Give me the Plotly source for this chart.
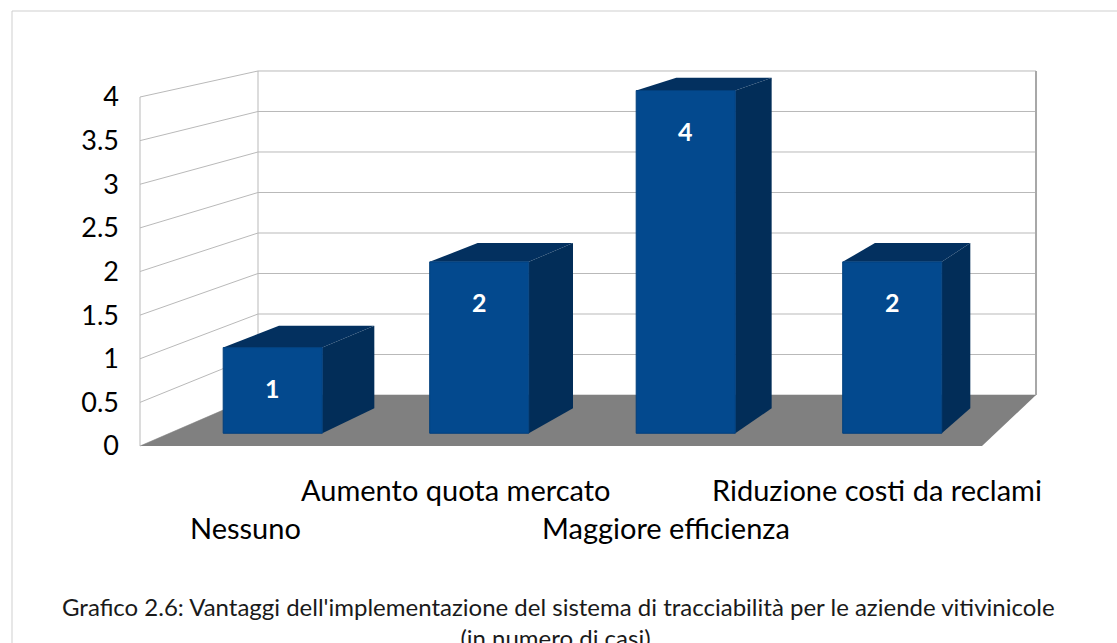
import plotly.graph_objects as go

# Data
categories = ["Nessuno", "Aumento quota mercato", "Maggiore efficienza", "Riduzione costi da reclami"]
values = [1, 2, 4, 2]
y_ticks = [0, 0.5, 1, 1.5, 2, 2.5, 3, 3.5, 4]
caption = ("Grafico 2.6: Vantaggi dell'implementazione del sistema di tracciabilità per le aziende vitivinicole"
           "<br>(in numero di casi).")

W, H = 1117, 643
FONT = "Lato"

# Oblique/perspective projection of (u: category units, z: depth 0..1, v: value)
# onto the front-plane axes (x in category units, y in value units).
K_U, OFF_U = 0.076, 0.5606
K_V, OFF_V = 0.0716, 0.5845


def proj(u, z, v):
    return u * (1 - K_U * z) + OFF_U * z, v * (1 - K_V * z) + OFF_V * z


def poly(points, fill, line_color=None, width=0):
    xs, ys = zip(*[proj(*p) for p in points])
    xs = list(xs) + [xs[0]]
    ys = list(ys) + [ys[0]]
    return go.Scatter(x=xs, y=ys, mode="lines", fill="toself", fillcolor=fill,
                      line=dict(color=line_color or fill, width=width),
                      hoverinfo="skip", showlegend=False)


def seg(p0, p1, color="#b9b9b9", width=1):
    x0, y0 = proj(*p0)
    x1, y1 = proj(*p1)
    return go.Scatter(x=[x0, x1], y=[y0, y1], mode="lines",
                      line=dict(color=color, width=width),
                      hoverinfo="skip", showlegend=False)


n = len(categories)
vmax = max(y_ticks)
traces = []

# Walls: gridlines on side wall and back wall
for t in y_ticks:
    traces.append(seg((0, 0, t), (0, 1, t)))
    traces.append(seg((0, 1, t), (n, 1, t)))
traces.append(seg((0, 0, 0), (0, 0, vmax)))
traces.append(seg((0, 1, 0), (0, 1, vmax)))
traces.append(seg((n, 1, 0), (n, 1, vmax), color="#a8a8a8", width=2))

# Floor
traces.append(poly([(0, 0, 0), (n, 0, 0), (n, 1, 0), (0, 1, 0)], "#808080"))

# Bars
FRONT, SIDE, TOP = "#03498e", "#022d58", "#03305f"
Z0, Z1 = 0.25, 0.74
HALF = 0.24
annotations = []
for i, v in enumerate(values):
    u0, u1 = i + 0.5 - HALF, i + 0.5 + HALF
    traces.append(poly([(u0, Z0, v), (u1, Z0, v), (u1, Z1, v), (u0, Z1, v)], TOP))
    traces.append(poly([(u1, Z0, 0), (u1, Z1, 0), (u1, Z1, v), (u1, Z0, v)], SIDE))
    traces.append(poly([(u0, Z0, 0), (u1, Z0, 0), (u1, Z0, v), (u0, Z0, v)], FRONT,
                       line_color="#023f7c", width=1))
    lx, ly = proj(i + 0.5, Z0, v)
    annotations.append(dict(x=lx, y=ly, text=f"<b>{v}</b>", showarrow=False,
                            yshift=-40, font=dict(family=FONT, size=25, color="white")))

# Category labels, staggered over two rows
for i, c in enumerate(categories):
    cx, cy = proj(i + 0.5, 0, 0)
    annotations.append(dict(x=cx, y=cy, text=c, showarrow=False,
                            yshift=-43 if i % 2 else -81,
                            font=dict(family=FONT, size=29, color="black")))

# Caption
annotations.append(dict(x=0.5, y=(H - 590) / H, xref="paper", yref="paper", text=caption,
                        showarrow=False, yanchor="top", align="center",
                        font=dict(family=FONT, size=24, color="#1a1a1a")))

# Axis ranges chosen so the front plane spans the drawing area
PX_U = 210.5
PX_V = 87.25
X0_PX, Y0_PX = 140, 446
x_range = [-X0_PX / PX_U, (W - X0_PX) / PX_U]
y_range = [(Y0_PX - H) / PX_V, Y0_PX / PX_V]

fig = go.Figure(traces)
fig.update_layout(
    width=W, height=H,
    margin=dict(l=0, r=0, t=0, b=0),
    paper_bgcolor="white", plot_bgcolor="white",
    showlegend=False, hovermode=False,
    annotations=annotations,
    xaxis=dict(range=x_range, visible=False, fixedrange=True),
    yaxis=dict(range=y_range, anchor="free", position=X0_PX / W,
               tickvals=y_ticks, ticktext=[f"{t:g}" for t in y_ticks],
               showgrid=False, zeroline=False, showline=False, ticks="",
               ticklabelstandoff=21,
               tickfont=dict(family=FONT, size=27, color="black"), fixedrange=True),
    shapes=[
        dict(type="line", xref="paper", yref="paper", x0=12 / W, x1=1, y0=1 - 11 / H, y1=1 - 11 / H,
             line=dict(color="#cfcfcf", width=1)),
        dict(type="line", xref="paper", yref="paper", x0=12 / W, x1=12 / W, y0=0, y1=1 - 11 / H,
             line=dict(color="#cfcfcf", width=1)),
    ],
)

fig.write_html("out.html", config={"displayModeBar": False})
